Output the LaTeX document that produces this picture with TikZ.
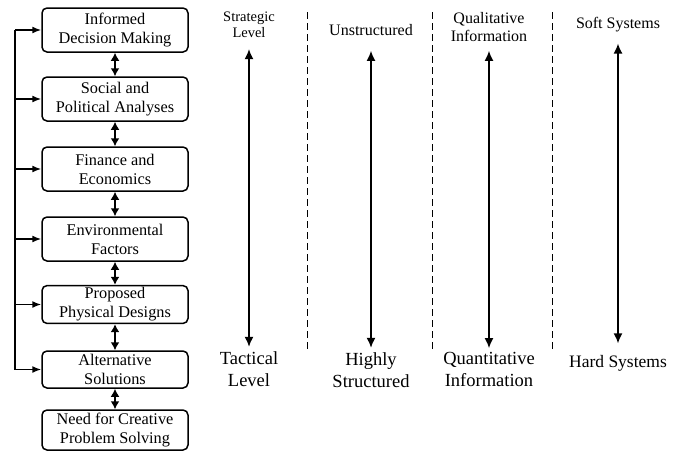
\documentclass[tikz,border=0pt]{standalone}
\usepackage{fontspec}
\setmainfont{Liberation Serif}
\usetikzlibrary{arrows.meta}

\tikzset{
  stage/.style={draw, line width=1.5pt, rounded corners=5pt, minimum width=146,
    inner sep=2pt, align=center, font=\fontsize{16.3}{19}\selectfont},
  link/.style={{Latex[length=8pt,width=9pt]}-{Latex[length=8pt,width=9pt]}, line width=2.6pt},
  feedline/.style={line width=1.5pt},
  feed/.style={-{Latex[length=9pt,width=7pt]}, line width=1.5pt},
  toplab/.style={inner sep=0pt, align=center, font=\fontsize{16}{18}\selectfont},
  botlab/.style={inner sep=0pt, align=center, font=\fontsize{18.5}{22}\selectfont},
  scalearrow/.style={{Latex[length=10pt,width=9pt]}-{Latex[length=10pt,width=9pt]}, line width=1.5pt},
  divider/.style={line width=0.9pt, dash pattern=on 7pt off 4pt}
}

\begin{document}
\begin{tikzpicture}[x=1pt,y=-1pt]
  \useasboundingbox (0,0) rectangle (684,451);

  % the stages
  \node[stage,minimum height=44] (informed) at (115,30) {Informed\\Decision Making};
  \node[stage,minimum height=44] (social) at (115,99) {Social and\\Political Analyses};
  \node[stage,minimum height=44] (finance) at (115,169) {Finance and\\Economics};
  \node[stage,minimum height=44] (environ) at (115,239) {Environmental\\Factors};
  \node[stage,minimum height=37] (physical) at (115,304.5) {Proposed\\Physical Designs};
  \node[stage,minimum height=37] (altern) at (115,369.5) {Alternative\\Solutions};
  \node[stage,minimum height=40] (creative) at (115,430) {Need for Creative\\Problem Solving};

  \foreach \a/\b in {informed/social, social/finance, finance/environ,
                     environ/physical, physical/altern, altern/creative}
    \draw[link] (\a) -- (\b);

  % feedback on the left
  \coordinate (rail) at (15,0);
  \draw[feedline] (informed.west -| rail) -- (altern.west -| rail);
  \foreach \s in {informed, social, finance, environ, physical, altern}
    \draw[feed] (\s.west -| rail) -- (\s.west);

  % the scales
  \node[toplab, font=\fontsize{14.5}{16}\selectfont] (strat) at (249,25) {Strategic\\Level};
  \node[botlab] (tact) at (249,369) {Tactical\\Level};
  \draw[scalearrow, shorten <=11pt, shorten >=4.5pt] (strat) -- (tact);

  \node[toplab] (unstr) at (371,30) {Unstructured};
  \node[botlab] (struct) at (371,370) {Highly\\Structured};
  \draw[scalearrow, shorten <=15pt, shorten >=4.5pt] (unstr) -- (struct);

  \node[toplab] (qual) at (489,27) {Qualitative\\Information};
  \node[botlab] (quant) at (489,369) {Quantitative\\Information};
  \draw[scalearrow, shorten <=9pt, shorten >=3.5pt] (qual) -- (quant);

  \node[toplab] (soft) at (618,25) {Soft Systems};
  \node[botlab, font=\fontsize{17.5}{21}\selectfont] (hard) at (618,363) {Hard Systems};
  \draw[scalearrow, shorten <=11pt, shorten >=11.5pt] (soft) -- (hard);

  \draw[divider] (307,12) -- (307,350);
  \draw[divider] (432,12) -- (432,350);
  \draw[divider] (552,12) -- (552,350);
\end{tikzpicture}
\end{document}
